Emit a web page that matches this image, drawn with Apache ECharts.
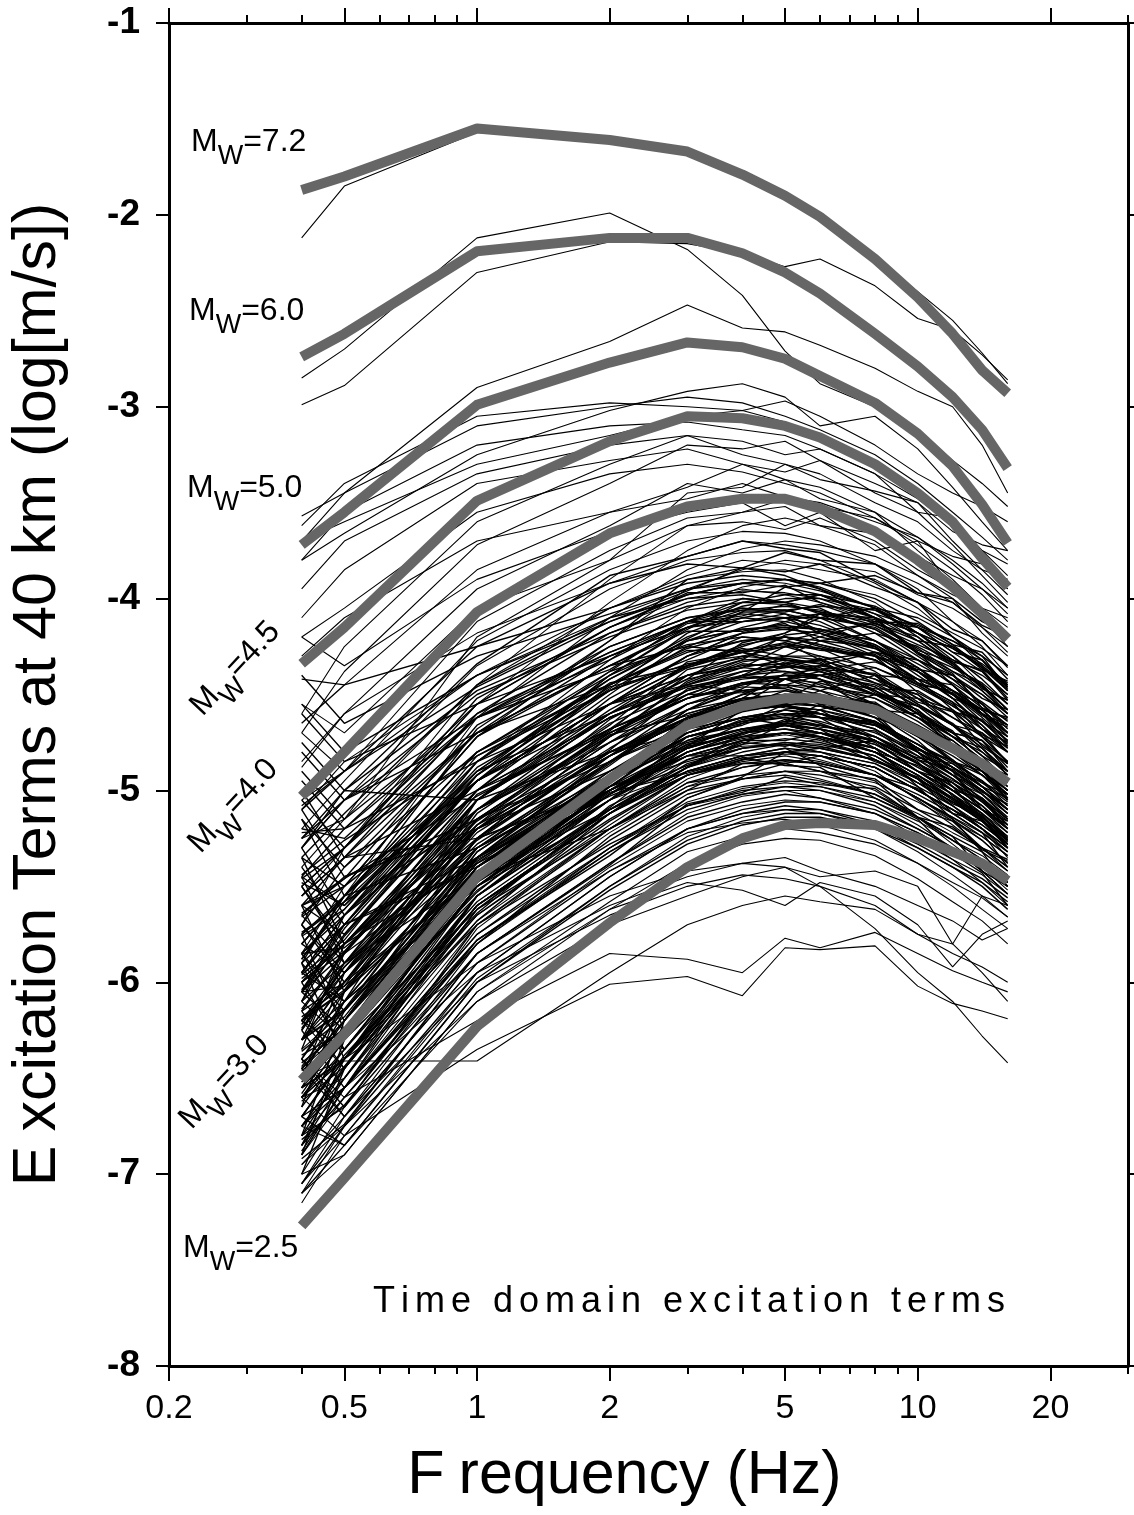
<!DOCTYPE html>
<html>
<head>
<meta charset="utf-8">
<script src="https://cdn.jsdelivr.net/npm/echarts@6/dist/echarts.min.js"></script>
<style>
  html, body { margin: 0; padding: 0; background: #ffffff; }
  #chart { width: 1134px; height: 1515px; }
</style>
</head>
<body>
<div id="chart"></div>
<script>
// Sample frequencies (Hz) shared by every curve
const freqs = [0.4, 0.5, 1, 2, 3, 4, 5, 6, 8, 10, 12, 14, 16];

// Frequency axis ticks
const majorFreqTicks = [0.2, 0.5, 1, 2, 5, 10, 20];
const minorFreqTicks = [0.3, 0.4, 0.6, 0.7, 0.8, 0.9, 3, 4, 6, 7, 8, 9, 30];

// Reference model curves, one per moment magnitude
const magnitudes = ['7.2', '6.0', '5.0', '4.5', '4.0', '3.0', '2.5'];
const modelMw72 = [-1.87, -1.80, -1.55, -1.61, -1.67, -1.79, -1.90, -2.01, -2.23, -2.43, -2.62, -2.81, -2.93];
const modelMw60 = [-2.74, -2.62, -2.19, -2.12, -2.12, -2.20, -2.30, -2.41, -2.62, -2.79, -2.95, -3.12, -3.32];
const modelMw50 = [-3.72, -3.55, -2.99, -2.77, -2.665, -2.69, -2.75, -2.84, -2.98, -3.14, -3.31, -3.51, -3.71];
const modelMw45 = [-4.34, -4.15, -3.49, -3.18, -3.05, -3.06, -3.10, -3.16, -3.30, -3.45, -3.60, -3.79, -3.94];
const modelMw40 = [-5.03, -4.80, -4.07, -3.66, -3.52, -3.48, -3.48, -3.53, -3.65, -3.80, -3.94, -4.08, -4.21];
const modelMw30 = [-6.51, -6.27, -5.45, -4.94, -4.66, -4.56, -4.52, -4.52, -4.58, -4.69, -4.78, -4.86, -4.96];
const modelMw25 = [-7.27, -7.02, -6.23, -5.69, -5.40, -5.25, -5.18, -5.17, -5.18, -5.25, -5.32, -5.38, -5.47];

// Event excitation terms: larger events
const upperTerms = [
  [-2.12, -1.85, -1.57, -1.62, -1.68, -1.80, -1.92, -2.03, -2.22, -2.40, -2.55, -2.72, -2.88],
  [-2.85, -2.70, -2.12, -1.99, -2.18, -2.42, -2.71, -2.88, -3.00, -3.12, -3.28, -3.40, -3.52],
  [-2.99, -2.89, -2.30, -2.14, -2.15, -2.20, -2.27, -2.23, -2.37, -2.54, -2.60, -2.73, -2.86],
  [-3.70, -3.45, -2.90, -2.66, -2.47, -2.59, -2.61, -2.68, -2.80, -2.92, -3.00, -3.20, -3.45],
  [-3.62, -3.40, -3.05, -2.98, -3.00, -3.02, -2.97, -3.05, -3.20, -3.35, -3.45, -3.52, -3.60],
  [-3.80, -3.66, -3.25, -3.02, -2.92, -2.88, -2.95, -3.10, -3.05, -3.22, -3.42, -3.60, -3.75],
  [-4.70, -4.38, -3.72, -3.40, -3.20, -3.22, -3.18, -3.28, -3.40, -3.50, -3.70, -3.85, -3.90],
  [-4.42, -4.45, -3.85, -3.55, -3.42, -3.30, -3.34, -3.28, -3.45, -3.55, -3.58, -3.75, -3.82],
  [-5.25, -5.15, -4.20, -3.80, -3.45, -3.42, -3.30, -3.38, -3.44, -3.50, -3.65, -3.72, -3.75],
  [-4.88, -4.60, -3.95, -3.62, -3.40, -3.45, -3.38, -3.48, -3.55, -3.75, -3.90, -4.05, -4.10],
  [-4.30, -4.10, -3.70, -3.55, -3.48, -3.40, -3.47, -3.50, -3.60, -3.68, -3.80, -3.92, -4.05],
  [-5.55, -5.30, -4.45, -3.90, -3.62, -3.55, -3.48, -3.52, -3.58, -3.70, -3.78, -3.82, -3.95],
  [-5.05, -4.90, -4.12, -3.75, -3.58, -3.55, -3.52, -3.62, -3.72, -3.88, -4.00, -4.18, -4.30],
  [-4.55, -4.70, -4.05, -3.80, -3.62, -3.60, -3.64, -3.58, -3.70, -3.85, -3.95, -4.08, -4.20],
  [-5.70, -5.30, -4.55, -4.02, -3.75, -3.62, -3.58, -3.62, -3.66, -3.78, -3.88, -3.95, -4.05],
  [-5.20, -4.95, -4.22, -3.85, -3.70, -3.65, -3.66, -3.70, -3.82, -3.95, -4.12, -4.25, -4.40],
  [-4.85, -4.60, -4.18, -3.92, -3.78, -3.70, -3.72, -3.75, -3.82, -3.92, -4.02, -4.15, -4.28],
  [-5.80, -5.55, -4.62, -4.10, -3.85, -3.74, -3.70, -3.72, -3.78, -3.88, -3.98, -4.05, -4.15],
  [-5.30, -5.05, -4.35, -3.95, -3.80, -3.76, -3.75, -3.80, -3.92, -4.05, -4.20, -4.35, -4.48],
  [-4.70, -4.90, -4.40, -4.05, -3.88, -3.80, -3.82, -3.85, -3.90, -4.02, -4.12, -4.22, -4.35],
  [-5.85, -5.50, -4.72, -4.22, -3.95, -3.85, -3.80, -3.82, -3.86, -3.98, -4.05, -4.15, -4.25],
  [-5.40, -5.15, -4.45, -4.05, -3.90, -3.86, -3.85, -3.90, -4.02, -4.18, -4.30, -4.45, -4.58],
  [-5.10, -4.85, -4.40, -4.10, -3.95, -3.90, -3.92, -3.96, -4.05, -4.15, -4.28, -4.38, -4.50],
  [-6.00, -5.70, -4.85, -4.32, -4.05, -3.94, -3.90, -3.92, -3.98, -4.08, -4.18, -4.26, -4.35],
  [-5.50, -5.30, -4.55, -4.15, -4.00, -3.95, -3.98, -4.02, -4.12, -4.28, -4.40, -4.55, -4.70],
  [-4.20, -4.35, -3.90, -3.65, -3.55, -3.50, -3.62, -3.55, -3.75, -3.70, -3.95, -4.10, -4.25],
  [-4.60, -4.25, -3.60, -3.30, -3.15, -3.18, -3.25, -3.22, -3.35, -3.55, -3.72, -3.88, -4.02],
  [-3.57, -3.45, -3.10, -3.00, -2.95, -2.98, -3.05, -3.12, -3.25, -3.40, -3.55, -3.68, -3.80],
  [-3.80, -3.55, -3.20, -3.10, -3.08, -3.12, -3.15, -3.22, -3.35, -3.48, -3.62, -3.75, -3.88],
  [-3.95, -3.70, -3.35, -3.20, -3.15, -3.25, -3.30, -3.35, -3.50, -3.60, -3.75, -3.85, -3.98],
  [-4.10, -3.85, -3.40, -3.28, -3.22, -3.30, -3.38, -3.42, -3.55, -3.68, -3.82, -3.95, -4.08],
  [-4.20, -4.05, -3.55, -3.35, -3.30, -3.34, -3.40, -3.45, -3.58, -3.72, -3.85, -3.98, -4.12],
  [-3.70, -3.60, -3.30, -3.15, -3.05, -3.02, -3.08, -3.15, -3.28, -3.45, -3.62, -3.80, -3.95]
];

// Event excitation terms: the bulk of moderate events
const denseTerms = [
  [-5.55, -5.35, -4.60, -4.18, -4.04, -4.00, -4.02, -4.05, -4.18, -4.32, -4.45, -4.60, -4.72],
  [-6.05, -5.70, -4.92, -4.40, -4.15, -4.04, -4.00, -4.00, -4.06, -4.18, -4.26, -4.35, -4.45],
  [-5.20, -5.25, -4.62, -4.32, -4.12, -4.05, -4.06, -4.10, -4.15, -4.28, -4.38, -4.45, -4.58],
  [-5.70, -5.40, -4.70, -4.25, -4.10, -4.05, -4.08, -4.12, -4.25, -4.40, -4.52, -4.68, -4.80],
  [-6.15, -5.85, -5.00, -4.50, -4.22, -4.12, -4.10, -4.08, -4.16, -4.28, -4.36, -4.44, -4.55],
  [-5.60, -5.50, -4.72, -4.30, -4.15, -4.12, -4.10, -4.18, -4.28, -4.42, -4.58, -4.72, -4.85],
  [-5.90, -5.55, -4.85, -4.42, -4.22, -4.16, -4.15, -4.20, -4.26, -4.38, -4.50, -4.60, -4.70],
  [-5.35, -5.50, -4.95, -4.55, -4.30, -4.18, -4.15, -4.16, -4.22, -4.32, -4.42, -4.50, -4.62],
  [-6.30, -6.00, -5.10, -4.60, -4.35, -4.24, -4.20, -4.22, -4.25, -4.38, -4.48, -4.55, -4.66],
  [-5.75, -5.55, -4.80, -4.38, -4.24, -4.20, -4.22, -4.26, -4.38, -4.52, -4.66, -4.80, -4.92],
  [-5.95, -6.10, -5.05, -4.52, -4.30, -4.22, -4.20, -4.25, -4.32, -4.45, -4.55, -4.68, -4.75],
  [-6.40, -6.05, -5.20, -4.68, -4.40, -4.30, -4.25, -4.26, -4.30, -4.42, -4.50, -4.58, -4.70],
  [-5.45, -5.60, -4.95, -4.55, -4.35, -4.28, -4.25, -4.30, -4.40, -4.55, -4.65, -4.78, -4.90],
  [-5.85, -5.62, -4.88, -4.48, -4.34, -4.30, -4.32, -4.36, -4.48, -4.62, -4.76, -4.90, -5.02],
  [-6.55, -6.15, -5.25, -4.72, -4.44, -4.33, -4.30, -4.30, -4.36, -4.46, -4.56, -4.64, -4.72],
  [-6.00, -5.80, -5.05, -4.60, -4.40, -4.32, -4.31, -4.34, -4.42, -4.50, -4.62, -4.72, -4.85],
  [-5.60, -5.75, -5.00, -4.62, -4.45, -4.38, -4.35, -4.38, -4.46, -4.60, -4.70, -4.82, -4.95],
  [-6.30, -6.00, -5.20, -4.75, -4.50, -4.40, -4.36, -4.35, -4.40, -4.52, -4.62, -4.70, -4.80],
  [-5.95, -5.70, -4.95, -4.55, -4.40, -4.36, -4.38, -4.42, -4.55, -4.70, -4.84, -4.98, -5.10],
  [-6.60, -6.30, -5.35, -4.82, -4.55, -4.45, -4.40, -4.40, -4.45, -4.56, -4.66, -4.74, -4.85],
  [-6.10, -5.90, -5.10, -4.65, -4.48, -4.42, -4.40, -4.45, -4.55, -4.68, -4.80, -4.92, -5.05],
  [-5.50, -5.80, -5.15, -4.70, -4.52, -4.44, -4.42, -4.46, -4.50, -4.62, -4.70, -4.82, -4.90],
  [-6.25, -5.95, -5.05, -4.62, -4.46, -4.41, -4.42, -4.48, -4.60, -4.74, -4.90, -5.02, -5.15],
  [-6.45, -6.20, -5.30, -4.85, -4.58, -4.48, -4.45, -4.46, -4.52, -4.62, -4.72, -4.80, -4.90],
  [-5.80, -5.95, -5.22, -4.78, -4.55, -4.48, -4.46, -4.50, -4.60, -4.72, -4.85, -4.95, -5.08],
  [-6.05, -5.85, -5.10, -4.68, -4.52, -4.46, -4.47, -4.52, -4.62, -4.78, -4.92, -5.05, -5.20],
  [-6.70, -6.40, -5.45, -4.92, -4.64, -4.54, -4.50, -4.50, -4.55, -4.66, -4.76, -4.84, -4.94],
  [-6.20, -6.00, -5.20, -4.75, -4.58, -4.52, -4.50, -4.55, -4.65, -4.80, -4.92, -5.05, -5.18],
  [-5.70, -5.95, -5.28, -4.85, -4.62, -4.53, -4.50, -4.52, -4.60, -4.70, -4.80, -4.88, -5.00],
  [-6.40, -6.10, -5.30, -4.82, -4.60, -4.52, -4.51, -4.54, -4.60, -4.72, -4.82, -4.92, -5.02],
  [-6.80, -6.45, -5.50, -4.98, -4.70, -4.59, -4.55, -4.56, -4.60, -4.70, -4.80, -4.88, -4.98],
  [-6.15, -6.00, -5.25, -4.80, -4.62, -4.57, -4.55, -4.60, -4.72, -4.86, -5.00, -5.12, -5.25],
  [-5.90, -6.15, -5.35, -4.90, -4.68, -4.58, -4.56, -4.58, -4.64, -4.76, -4.86, -4.95, -5.05],
  [-6.60, -6.30, -5.45, -4.98, -4.72, -4.64, -4.60, -4.62, -4.66, -4.78, -4.88, -4.96, -5.06],
  [-6.30, -6.10, -5.30, -4.85, -4.68, -4.62, -4.60, -4.65, -4.75, -4.90, -5.02, -5.15, -5.28],
  [-6.05, -6.25, -5.40, -4.95, -4.72, -4.64, -4.61, -4.62, -4.70, -4.80, -4.90, -5.00, -5.10],
  [-6.85, -6.50, -5.55, -5.02, -4.74, -4.63, -4.60, -4.60, -4.65, -4.76, -4.85, -4.92, -5.02],
  [-6.45, -6.20, -5.38, -4.92, -4.74, -4.68, -4.66, -4.70, -4.80, -4.94, -5.08, -5.20, -5.32],
  [-6.20, -6.35, -5.50, -5.02, -4.78, -4.69, -4.65, -4.66, -4.72, -4.82, -4.92, -5.00, -5.10],
  [-6.70, -6.40, -5.55, -5.05, -4.80, -4.70, -4.66, -4.68, -4.74, -4.86, -4.96, -5.05, -5.15],
  [-5.10, -5.45, -5.20, -4.90, -4.70, -4.62, -4.58, -4.60, -4.66, -4.78, -4.88, -4.98, -5.10],
  [-5.25, -5.00, -5.05, -4.80, -4.62, -4.50, -4.48, -4.52, -4.58, -4.70, -4.80, -4.90, -5.00],
  [-5.40, -5.70, -5.35, -5.00, -4.82, -4.74, -4.70, -4.72, -4.78, -4.90, -5.00, -5.10, -5.20],
  [-4.95, -5.20, -4.85, -4.55, -4.40, -4.35, -4.34, -4.38, -4.46, -4.60, -4.72, -4.84, -4.96],
  [-5.55, -5.35, -5.25, -4.98, -4.85, -4.78, -4.76, -4.78, -4.84, -4.94, -5.04, -5.14, -5.25],
  [-4.80, -5.05, -4.70, -4.45, -4.28, -4.22, -4.20, -4.24, -4.32, -4.45, -4.56, -4.66, -4.78],
  [-5.65, -5.90, -5.45, -5.10, -4.92, -4.86, -4.84, -4.86, -4.92, -5.02, -5.12, -5.22, -5.32],
  [-4.60, -4.85, -4.55, -4.30, -4.15, -4.10, -4.12, -4.16, -4.24, -4.36, -4.48, -4.58, -4.70],
  [-5.80, -5.55, -5.30, -4.95, -4.75, -4.68, -4.66, -4.70, -4.78, -4.90, -5.02, -5.14, -5.26],
  [-4.40, -4.65, -4.30, -4.08, -3.95, -3.92, -3.94, -3.98, -4.08, -4.22, -4.35, -4.48, -4.60],
  [-6.20, -5.95, -5.15, -4.70, -4.50, -4.40, -4.30, -4.22, -4.18, -4.25, -4.35, -4.45, -4.58],
  [-6.45, -6.20, -5.35, -4.85, -4.62, -4.50, -4.42, -4.35, -4.28, -4.32, -4.40, -4.50, -4.60],
  [-6.00, -5.80, -5.05, -4.62, -4.45, -4.36, -4.25, -4.20, -4.12, -4.15, -4.22, -4.32, -4.45],
  [-6.60, -6.35, -5.50, -5.00, -4.78, -4.65, -4.55, -4.48, -4.40, -4.42, -4.50, -4.60, -4.70],
  [-5.85, -5.65, -4.95, -4.55, -4.35, -4.25, -4.18, -4.10, -4.05, -4.10, -4.20, -4.32, -4.48],
  [-6.75, -6.50, -5.62, -5.10, -4.88, -4.76, -4.65, -4.58, -4.50, -4.52, -4.58, -4.68, -4.78],
  [-5.60, -5.35, -4.70, -4.35, -4.25, -4.28, -4.35, -4.42, -4.60, -4.80, -4.98, -5.15, -5.30],
  [-5.90, -5.70, -4.95, -4.55, -4.45, -4.48, -4.55, -4.62, -4.78, -4.98, -5.15, -5.32, -5.50]
];

// Event excitation terms: further moderate events
const moreTerms = [
  [-6.18, -6.02, -5.12, -4.66, -4.33, -4.28, -4.20, -4.24, -4.30, -4.36, -4.50, -4.58, -4.62],
  [-5.88, -5.55, -4.90, -4.44, -4.35, -4.26, -4.30, -4.32, -4.48, -4.58, -4.76, -4.85, -5.04],
  [-5.48, -5.60, -4.90, -4.60, -4.45, -4.34, -4.36, -4.31, -4.44, -4.50, -4.66, -4.70, -4.86],
  [-6.52, -6.20, -5.40, -4.95, -4.66, -4.55, -4.42, -4.40, -4.36, -4.45, -4.48, -4.60, -4.66],
  [-6.38, -6.25, -5.32, -4.86, -4.58, -4.44, -4.45, -4.40, -4.50, -4.56, -4.70, -4.74, -4.90],
  [-6.00, -5.84, -5.02, -4.68, -4.50, -4.49, -4.45, -4.54, -4.62, -4.80, -4.90, -5.10, -5.18],
  [-5.75, -5.58, -5.15, -4.80, -4.64, -4.52, -4.54, -4.50, -4.62, -4.70, -4.85, -4.90, -5.05],
  [-6.70, -6.38, -5.64, -5.08, -4.88, -4.70, -4.64, -4.55, -4.58, -4.60, -4.70, -4.74, -4.88],
  [-6.55, -6.40, -5.50, -5.05, -4.72, -4.66, -4.58, -4.62, -4.64, -4.79, -4.84, -4.96, -5.02],
  [-6.22, -5.92, -5.26, -4.80, -4.70, -4.62, -4.66, -4.68, -4.84, -4.94, -5.12, -5.22, -5.40],
  [-5.85, -5.82, -5.25, -5.00, -4.76, -4.72, -4.66, -4.70, -4.74, -4.90, -4.96, -5.10, -5.16],
  [-6.75, -6.44, -5.68, -5.12, -4.88, -4.74, -4.74, -4.70, -4.80, -4.87, -5.00, -5.04, -5.18],
  [-6.82, -6.64, -5.78, -5.34, -5.04, -4.93, -4.80, -4.78, -4.74, -4.83, -4.86, -4.98, -5.04],
  [-6.30, -6.15, -5.36, -5.00, -4.82, -4.82, -4.78, -4.87, -4.95, -5.14, -5.24, -5.42, -5.50],
  [-6.88, -6.55, -5.80, -5.24, -5.00, -4.86, -4.86, -4.82, -4.92, -4.99, -5.12, -5.16, -5.30],
  [-6.05, -6.02, -5.45, -5.20, -4.96, -4.92, -4.86, -4.90, -4.94, -5.10, -5.16, -5.30, -5.36],
  [-6.20, -6.05, -5.18, -4.72, -4.43, -4.32, -4.19, -4.17, -4.13, -4.22, -4.25, -4.37, -4.43],
  [-5.60, -5.46, -4.66, -4.30, -4.12, -4.12, -4.08, -4.17, -4.25, -4.44, -4.54, -4.72, -4.80],
  [-6.10, -5.76, -5.00, -4.45, -4.21, -4.07, -4.07, -4.03, -4.13, -4.20, -4.33, -4.37, -4.52],
  [-5.25, -5.05, -4.62, -4.28, -4.12, -4.00, -4.02, -3.98, -4.10, -4.18, -4.32, -4.38, -4.53],
  [-5.76, -5.62, -4.82, -4.45, -4.27, -4.27, -4.23, -4.32, -4.40, -4.59, -4.69, -4.87, -4.95],
  [-6.30, -6.14, -5.25, -4.79, -4.47, -4.41, -4.33, -4.37, -4.39, -4.54, -4.59, -4.71, -4.77],
  [-6.58, -6.26, -5.53, -4.98, -4.77, -4.58, -4.53, -4.43, -4.47, -4.48, -4.59, -4.63, -4.77],
  [-6.14, -5.84, -5.16, -4.71, -4.61, -4.53, -4.57, -4.58, -4.74, -4.85, -5.03, -5.13, -5.30],
  [-6.62, -6.44, -5.55, -5.09, -4.77, -4.71, -4.63, -4.67, -4.69, -4.84, -4.89, -5.01, -5.07],
  [-5.98, -5.80, -5.38, -5.03, -4.87, -4.75, -4.77, -4.73, -4.85, -4.93, -5.07, -5.13, -5.27],
  [-6.44, -6.14, -5.46, -5.01, -4.91, -4.83, -4.87, -4.88, -5.04, -5.15, -5.33, -5.43, -5.60],
  [-6.92, -6.74, -5.85, -5.39, -5.07, -5.01, -4.93, -4.97, -4.99, -5.14, -5.19, -5.31, -5.37],
  [-6.36, -6.18, -5.32, -4.87, -4.58, -4.47, -4.34, -4.32, -4.28, -4.37, -4.40, -4.52, -4.58],
  [-6.46, -6.30, -5.40, -4.94, -4.62, -4.56, -4.48, -4.52, -4.54, -4.69, -4.74, -4.86, -4.92],
  [-5.30, -5.65, -5.10, -4.75, -4.55, -4.48, -4.45, -4.48, -4.55, -4.68, -4.78, -4.90, -5.02],
  [-6.90, -6.30, -5.40, -4.90, -4.66, -4.58, -4.56, -4.60, -4.68, -4.80, -4.92, -5.02, -5.14],
  [-5.00, -5.35, -5.00, -4.70, -4.52, -4.44, -4.40, -4.42, -4.50, -4.62, -4.74, -4.86, -4.98],
  [-6.65, -6.05, -5.25, -4.80, -4.60, -4.52, -4.50, -4.52, -4.58, -4.70, -4.80, -4.90, -5.00],
  [-5.75, -6.25, -5.55, -5.10, -4.88, -4.80, -4.76, -4.78, -4.84, -4.96, -5.06, -5.16, -5.26],
  [-6.35, -5.80, -5.10, -4.72, -4.52, -4.45, -4.42, -4.44, -4.52, -4.64, -4.76, -4.88, -5.00],
  [-5.45, -5.90, -5.30, -4.92, -4.72, -4.64, -4.62, -4.66, -4.74, -4.86, -4.98, -5.08, -5.20],
  [-6.80, -6.20, -5.45, -5.00, -4.78, -4.70, -4.68, -4.70, -4.78, -4.90, -5.00, -5.10, -5.22],
  [-5.15, -5.55, -4.95, -4.60, -4.42, -4.36, -4.32, -4.34, -4.42, -4.55, -4.66, -4.78, -4.90],
  [-6.50, -5.95, -5.35, -4.95, -4.76, -4.68, -4.64, -4.66, -4.72, -4.84, -4.94, -5.04, -5.15],
  [-5.90, -6.40, -5.60, -5.15, -4.92, -4.84, -4.80, -4.82, -4.88, -5.00, -5.10, -5.20, -5.30],
  [-6.10, -5.65, -5.00, -4.62, -4.46, -4.40, -4.38, -4.40, -4.48, -4.60, -4.72, -4.84, -4.96],
  [-5.60, -6.05, -5.42, -5.02, -4.82, -4.74, -4.70, -4.72, -4.80, -4.92, -5.04, -5.14, -5.26],
  [-7.00, -6.45, -5.60, -5.12, -4.90, -4.82, -4.78, -4.80, -4.86, -4.98, -5.08, -5.18, -5.28],
  [-5.35, -5.80, -5.18, -4.82, -4.64, -4.56, -4.54, -4.56, -4.64, -4.76, -4.88, -4.98, -5.10],
  [-6.25, -5.90, -5.20, -4.82, -4.64, -4.58, -4.56, -4.60, -4.68, -4.82, -4.94, -5.06, -5.18],
  [-6.80, -6.65, -5.85, -5.38, -5.14, -5.06, -5.02, -5.04, -5.10, -5.20, -5.30, -5.38, -5.48],
  [-6.45, -6.70, -5.90, -5.42, -5.20, -5.12, -5.08, -5.10, -5.18, -5.30, -5.40, -5.50, -5.62],
  [-7.05, -6.75, -5.95, -5.45, -5.20, -5.10, -5.06, -5.06, -5.12, -5.22, -5.32, -5.40, -5.50],
  [-6.60, -6.40, -5.70, -5.28, -5.08, -5.00, -4.98, -5.00, -5.08, -5.20, -5.30, -5.42, -5.54],
  [-6.90, -6.55, -5.78, -5.32, -5.10, -5.02, -4.98, -4.98, -5.04, -5.14, -5.24, -5.32, -5.42],
  [-6.70, -6.85, -6.00, -5.52, -5.28, -5.18, -5.14, -5.14, -5.20, -5.30, -5.40, -5.48, -5.58],
  [-6.55, -6.30, -5.62, -5.20, -5.00, -4.94, -4.92, -4.95, -5.02, -5.14, -5.26, -5.36, -5.48],
  [-7.10, -6.85, -6.00, -5.50, -5.26, -5.16, -5.12, -5.12, -5.18, -5.28, -5.38, -5.46, -5.56],
  [-5.45, -5.20, -4.55, -4.15, -3.98, -3.92, -3.90, -3.94, -4.05, -4.20, -4.34, -4.46, -4.60],
  [-5.95, -5.65, -4.85, -4.38, -4.12, -4.02, -3.98, -3.98, -4.04, -4.15, -4.25, -4.34, -4.44],
  [-5.05, -5.30, -4.70, -4.35, -4.15, -4.06, -4.04, -4.06, -4.14, -4.26, -4.38, -4.48, -4.60],
  [-6.20, -5.90, -5.05, -4.55, -4.30, -4.18, -4.12, -4.08, -4.10, -4.18, -4.26, -4.36, -4.46],
  [-5.50, -5.30, -4.62, -4.25, -4.10, -4.06, -4.06, -4.10, -4.22, -4.36, -4.50, -4.64, -4.76],
  [-5.80, -5.55, -4.80, -4.40, -4.22, -4.16, -4.14, -4.16, -4.22, -4.34, -4.44, -4.54, -4.64],
  [-4.90, -5.15, -4.60, -4.28, -4.12, -4.08, -4.10, -4.14, -4.24, -4.38, -4.50, -4.62, -4.74],
  [-6.05, -5.75, -4.95, -4.48, -4.25, -4.15, -4.10, -4.10, -4.14, -4.24, -4.32, -4.40, -4.50]
];

// Event excitation terms: additional moderate events
const extraTerms = [
  [-5.30, -5.00, -4.34, -3.88, -3.78, -3.70, -3.74, -3.76, -3.91, -4.02, -4.20, -4.30, -4.47],
  [-5.74, -5.58, -4.68, -4.22, -3.90, -3.84, -3.76, -3.80, -3.82, -3.97, -4.02, -4.14, -4.20],
  [-5.08, -4.90, -4.46, -4.12, -3.96, -3.84, -3.86, -3.82, -3.94, -4.02, -4.16, -4.22, -4.36],
  [-5.96, -5.78, -4.92, -4.47, -4.18, -4.07, -3.94, -3.92, -3.88, -3.97, -4.00, -4.12, -4.18],
  [-5.46, -5.30, -4.52, -4.15, -3.97, -3.97, -3.93, -4.02, -4.10, -4.29, -4.39, -4.57, -4.66],
  [-6.04, -5.72, -4.95, -4.40, -4.16, -4.02, -4.02, -3.98, -4.08, -4.15, -4.28, -4.32, -4.46],
  [-5.22, -5.20, -4.62, -4.37, -4.13, -4.09, -4.03, -4.07, -4.11, -4.27, -4.33, -4.47, -4.53],
  [-6.24, -5.92, -5.18, -4.63, -4.42, -4.23, -4.18, -4.08, -4.12, -4.13, -4.24, -4.28, -4.42],
  [-5.66, -5.50, -4.72, -4.35, -4.17, -4.17, -4.13, -4.22, -4.30, -4.49, -4.59, -4.77, -4.86],
  [-5.44, -5.26, -4.82, -4.48, -4.32, -4.20, -4.22, -4.18, -4.30, -4.38, -4.52, -4.58, -4.72],
  [-6.20, -6.04, -5.15, -4.69, -4.37, -4.31, -4.23, -4.27, -4.29, -4.44, -4.49, -4.61, -4.67],
  [-5.88, -5.58, -4.92, -4.46, -4.36, -4.28, -4.32, -4.33, -4.49, -4.60, -4.78, -4.88, -5.05],
  [-6.42, -6.24, -5.37, -4.92, -4.63, -4.52, -4.39, -4.37, -4.33, -4.42, -4.45, -4.57, -4.63],
  [-5.64, -5.46, -5.03, -4.68, -4.52, -4.40, -4.42, -4.38, -4.50, -4.58, -4.72, -4.78, -4.92],
  [-5.10, -4.90, -4.25, -3.92, -3.82, -3.84, -3.88, -3.95, -4.10, -4.28, -4.45, -4.60, -4.75],
  [-5.35, -5.12, -4.45, -4.10, -4.00, -3.98, -4.02, -4.08, -4.22, -4.38, -4.52, -4.66, -4.80],
  [-4.75, -5.00, -4.48, -4.18, -4.02, -3.96, -3.97, -4.00, -4.10, -4.22, -4.34, -4.46, -4.58],
  [-4.65, -4.45, -4.25, -4.05, -3.92, -3.88, -3.90, -3.95, -4.05, -4.18, -4.30, -4.42, -4.55],
  [-5.95, -5.65, -4.90, -4.42, -4.20, -4.10, -4.06, -4.04, -4.06, -4.14, -4.22, -4.30, -4.40],
  [-5.15, -5.40, -4.80, -4.45, -4.26, -4.18, -4.16, -4.18, -4.26, -4.38, -4.48, -4.58, -4.70],
  [-6.30, -5.85, -5.05, -4.58, -4.36, -4.27, -4.24, -4.26, -4.32, -4.44, -4.54, -4.64, -4.74],
  [-4.55, -4.80, -4.40, -4.12, -3.98, -3.92, -3.90, -3.92, -4.00, -4.12, -4.24, -4.36, -4.48],
  [-5.85, -6.20, -5.25, -4.72, -4.48, -4.38, -4.35, -4.37, -4.44, -4.56, -4.66, -4.76, -4.86],
  [-5.30, -5.05, -4.50, -4.20, -4.06, -4.02, -4.03, -4.07, -4.16, -4.30, -4.42, -4.55, -4.68],
  [-6.25, -6.55, -5.55, -5.05, -4.80, -4.70, -4.66, -4.68, -4.74, -4.86, -4.96, -5.06, -5.16],
  [-5.95, -5.70, -5.40, -5.00, -4.78, -4.70, -4.68, -4.72, -4.80, -4.92, -5.04, -5.16, -5.28],
  [-6.50, -6.10, -5.50, -5.02, -4.80, -4.72, -4.70, -4.72, -4.78, -4.90, -5.00, -5.10, -5.20],
  [-5.70, -6.00, -5.45, -5.05, -4.84, -4.76, -4.73, -4.75, -4.82, -4.94, -5.05, -5.16, -5.28],
  [-6.40, -6.65, -5.70, -5.20, -4.96, -4.88, -4.84, -4.86, -4.92, -5.04, -5.14, -5.24, -5.34],
  [-6.05, -5.80, -5.20, -4.82, -4.62, -4.55, -4.53, -4.56, -4.64, -4.76, -4.88, -5.00, -5.12],
  [-6.65, -6.35, -5.58, -5.10, -4.86, -4.78, -4.75, -4.77, -4.84, -4.96, -5.06, -5.16, -5.26],
  [-5.50, -5.85, -5.35, -5.00, -4.80, -4.72, -4.70, -4.73, -4.80, -4.92, -5.02, -5.12, -5.24],
  [-6.15, -6.45, -5.60, -5.12, -4.90, -4.82, -4.80, -4.82, -4.88, -5.00, -5.10, -5.20, -5.30],
  [-6.85, -6.40, -5.65, -5.16, -4.92, -4.84, -4.80, -4.82, -4.88, -5.00, -5.10, -5.18, -5.28],
  [-5.85, -6.10, -5.50, -5.12, -4.92, -4.85, -4.82, -4.85, -4.92, -5.04, -5.15, -5.26, -5.38],
  [-6.55, -6.25, -5.40, -4.92, -4.70, -4.62, -4.58, -4.60, -4.66, -4.78, -4.88, -4.98, -5.08],
  [-6.00, -6.35, -5.48, -5.00, -4.76, -4.68, -4.65, -4.68, -4.76, -4.88, -4.98, -5.08, -5.20],
  [-6.75, -6.55, -5.75, -5.26, -5.02, -4.94, -4.90, -4.92, -4.98, -5.10, -5.20, -5.30, -5.40],
  [-6.30, -6.05, -5.35, -4.92, -4.72, -4.65, -4.62, -4.64, -4.72, -4.84, -4.96, -5.08, -5.20],
  [-5.65, -5.45, -5.15, -4.85, -4.66, -4.58, -4.56, -4.58, -4.66, -4.78, -4.90, -5.00, -5.12]
];

// Event excitation terms: smaller events
const lowerTerms = [
  [-6.55, -6.30, -5.45, -5.00, -4.80, -4.73, -4.70, -4.72, -4.80, -4.92, -5.05, -5.15, -5.28],
  [-6.90, -6.55, -5.62, -5.12, -4.84, -4.74, -4.70, -4.70, -4.76, -4.86, -4.95, -5.02, -5.12],
  [-6.10, -6.30, -5.52, -5.05, -4.82, -4.74, -4.71, -4.74, -4.82, -4.96, -5.08, -5.20, -5.35],
  [-6.75, -6.45, -5.60, -5.12, -4.88, -4.78, -4.75, -4.76, -4.82, -4.94, -5.04, -5.12, -5.22],
  [-6.35, -6.15, -5.40, -4.98, -4.82, -4.77, -4.76, -4.80, -4.90, -5.05, -5.18, -5.30, -5.42],
  [-7.00, -6.65, -5.72, -5.20, -4.94, -4.84, -4.80, -4.80, -4.86, -4.96, -5.06, -5.14, -5.24],
  [-6.50, -6.40, -5.60, -5.12, -4.90, -4.82, -4.80, -4.84, -4.92, -5.04, -5.16, -5.26, -5.38],
  [-6.20, -6.45, -5.65, -5.18, -4.92, -4.83, -4.81, -4.82, -4.88, -5.00, -5.10, -5.20, -5.30],
  [-6.80, -6.55, -5.70, -5.22, -4.98, -4.88, -4.85, -4.86, -4.92, -5.04, -5.14, -5.22, -5.32],
  [-6.45, -6.25, -5.48, -5.05, -4.90, -4.86, -4.86, -4.90, -5.00, -5.14, -5.28, -5.40, -5.52],
  [-7.05, -6.70, -5.80, -5.30, -5.04, -4.94, -4.90, -4.90, -4.96, -5.06, -5.16, -5.24, -5.34],
  [-6.60, -6.50, -5.68, -5.20, -4.98, -4.92, -4.90, -4.94, -5.02, -5.14, -5.26, -5.36, -5.48],
  [-6.90, -6.60, -5.78, -5.30, -5.06, -4.98, -4.95, -4.96, -5.02, -5.12, -5.22, -5.30, -5.40],
  [-6.40, -6.60, -5.80, -5.32, -5.08, -4.99, -4.96, -4.98, -5.06, -5.18, -5.30, -5.42, -5.54],
  [-7.10, -6.75, -5.85, -5.38, -5.12, -5.03, -5.00, -5.00, -5.06, -5.16, -5.26, -5.34, -5.44],
  [-6.70, -6.55, -5.75, -5.30, -5.08, -5.02, -5.00, -5.04, -5.12, -5.24, -5.36, -5.48, -5.60],
  [-6.95, -6.70, -5.90, -5.40, -5.16, -5.08, -5.05, -5.06, -5.12, -5.22, -5.32, -5.40, -5.50],
  [-6.60, -6.80, -5.95, -5.45, -5.20, -5.12, -5.10, -5.12, -5.20, -5.32, -5.44, -5.55, -5.66],
  [-7.15, -6.80, -5.98, -5.50, -5.24, -5.14, -5.10, -5.10, -5.16, -5.26, -5.36, -5.44, -5.54],
  [-6.85, -6.60, -5.85, -5.42, -5.22, -5.17, -5.15, -5.18, -5.26, -5.38, -5.50, -5.62, -5.72],
  [-7.00, -6.90, -6.05, -5.58, -5.32, -5.24, -5.20, -5.22, -5.28, -5.38, -5.48, -5.56, -5.66],
  [-6.75, -6.85, -6.10, -5.62, -5.38, -5.28, -5.25, -5.26, -5.34, -5.46, -5.58, -5.68, -5.80],
  [-7.05, -6.80, -6.35, -6.01, -5.97, -6.07, -5.82, -5.83, -5.81, -6.02, -6.11, -6.15, -6.19],
  [-6.85, -6.60, -6.20, -5.85, -5.88, -5.95, -5.77, -5.82, -5.74, -5.85, -5.94, -6.00, -6.05],
  [-6.60, -6.40, -5.90, -5.55, -5.42, -5.38, -5.40, -5.50, -5.72, -5.95, -6.10, -6.28, -6.42],
  [-6.55, -6.41, -6.41, -5.95, -5.70, -5.60, -5.55, -5.58, -5.62, -5.75, -5.85, -5.92, -6.00],
  [-6.95, -6.75, -6.10, -5.70, -5.55, -5.45, -5.40, -5.45, -5.42, -5.50, -5.80, -5.55, -5.60],
  [-6.70, -6.55, -5.95, -5.60, -5.45, -5.38, -5.35, -5.42, -5.50, -5.60, -5.68, -5.78, -5.72],
  [-7.10, -6.90, -6.05, -5.62, -5.48, -5.52, -5.60, -5.48, -5.55, -5.70, -5.92, -5.75, -5.68],
  [-6.40, -6.70, -6.00, -5.65, -5.50, -5.44, -5.46, -5.50, -5.60, -5.75, -5.80, -5.95, -6.10]
];

const modelCurves = [modelMw72, modelMw60, modelMw50, modelMw45, modelMw40, modelMw30, modelMw25];

// Placement of the magnitude tags relative to each model curve's first point (px, degrees)
const tagPlacement = [
  { dx: -53, dy: -42, rot: 0 },
  { dx: -55, dy: -40, rot: 0 },
  { dx: -57, dy: -51, rot: 0 },
  { dx: -62, dy: 9, rot: 47 },
  { dx: -64, dy: 14, rot: 47 },
  { dx: -73, dy: 6, rot: 47 },
  { dx: -61, dy: 28, rot: 0 }
];

const sansFont = "'Liberation Sans', Arial, sans-serif";
const toPairs = vals => freqs.map((f, i) => [f, vals[i]]);

// Curve groups and the stroke used for each
const thinGroups = [
  { rows: upperTerms, width: 1.1 },
  { rows: denseTerms, width: 1.4 },
  { rows: moreTerms, width: 1.4 },
  { rows: extraTerms, width: 1.4 },
  { rows: lowerTerms, width: 1.1 }
];

const series = [];
thinGroups.forEach(group => {
  group.rows.forEach(vals => {
    series.push({
      type: 'line',
      data: toPairs(vals),
      showSymbol: false,
      symbol: 'none',
      silent: true,
      z: 2,
      lineStyle: { color: '#000000', width: group.width }
    });
  });
});
modelCurves.forEach((vals, i) => {
  series.push({
    type: 'line',
    name: 'Mw ' + magnitudes[i],
    data: toPairs(vals),
    showSymbol: false,
    symbol: 'none',
    silent: true,
    z: 5,
    lineStyle: { color: '#666666', width: 10, cap: 'butt', join: 'round' }
  });
});

const freqAxisBase = {
  type: 'log',
  logBase: 10,
  min: 0.2,
  max: 30,
  gridIndex: 0,
  splitLine: { show: false },
  minorTick: { show: false },
  minorSplitLine: { show: false }
};

const option = {
  animation: false,
  backgroundColor: '#ffffff',
  grid: { left: 167, right: 6, top: 23, bottom: 149, containLabel: false },
  xAxis: [
    Object.assign({}, freqAxisBase, {
      position: 'bottom',
      axisLine: { show: true, onZero: false, lineStyle: { color: '#000', width: 3 } },
      axisTick: { show: true, inside: false, length: 15, customValues: majorFreqTicks, lineStyle: { color: '#000', width: 2 } },
      axisLabel: {
        show: true, customValues: majorFreqTicks, margin: 26, color: '#000',
        fontSize: 34, fontFamily: sansFont, formatter: v => String(v)
      },
      name: '{f|F}requency (Hz)',
      nameLocation: 'middle',
      nameGap: 80,
      nameTextStyle: {
        color: '#000', fontSize: 61, fontFamily: sansFont, padding: [0, 48, 0, 0],
        rich: { f: { fontSize: 61, fontFamily: sansFont, color: '#000', padding: [0, 14, 0, 0] } }
      }
    }),
    Object.assign({}, freqAxisBase, {
      position: 'bottom',
      axisLine: { show: false },
      axisTick: { show: true, inside: false, length: 8, customValues: minorFreqTicks, lineStyle: { color: '#000', width: 2 } },
      axisLabel: { show: false }
    }),
    Object.assign({}, freqAxisBase, {
      position: 'top',
      axisLine: { show: true, onZero: false, lineStyle: { color: '#000', width: 3 } },
      axisTick: { show: true, inside: false, length: 15, customValues: majorFreqTicks, lineStyle: { color: '#000', width: 2 } },
      axisLabel: { show: false }
    }),
    Object.assign({}, freqAxisBase, {
      position: 'top',
      axisLine: { show: false },
      axisTick: { show: true, inside: false, length: 8, customValues: minorFreqTicks, lineStyle: { color: '#000', width: 2 } },
      axisLabel: { show: false }
    })
  ],
  yAxis: [
    {
      type: 'value', min: -8, max: -1, interval: 1, position: 'left',
      axisLine: { show: true, onZero: false, lineStyle: { color: '#000', width: 3 } },
      axisTick: { show: true, inside: false, length: 13, lineStyle: { color: '#000', width: 2 } },
      axisLabel: { show: true, margin: 29, color: '#000', fontSize: 37, fontWeight: 'bold', fontFamily: sansFont },
      splitLine: { show: false },
      name: '{e|E}xcitation Terms at 40 km (log[m/s])',
      nameLocation: 'middle',
      nameRotate: 90,
      nameGap: 100,
      nameTextStyle: {
        color: '#000', fontSize: 61, fontFamily: sansFont,
        rich: { e: { fontSize: 61, fontFamily: sansFont, color: '#000', padding: [0, 14, 0, 0] } }
      }
    },
    {
      type: 'value', min: -8, max: -1, interval: 1, position: 'right',
      axisLine: { show: true, onZero: false, lineStyle: { color: '#000', width: 3 } },
      axisTick: { show: true, inside: false, length: 13, lineStyle: { color: '#000', width: 2 } },
      axisLabel: { show: false },
      splitLine: { show: false }
    }
  ],
  series: series
};

const chart = echarts.init(document.getElementById('chart'), null, { renderer: 'canvas' });
chart.setOption(option);

// Magnitude tags, anchored to the first point of each model curve
const tagRich = {
  m: { fontSize: 32, fontFamily: sansFont, color: '#000', lineHeight: 32, verticalAlign: 'top' },
  w: { fontSize: 27, fontFamily: sansFont, color: '#000', lineHeight: 44, verticalAlign: 'bottom' }
};
const tags = modelCurves.map((vals, i) => {
  const p = chart.convertToPixel({ xAxisIndex: 0, yAxisIndex: 0 }, [freqs[0], vals[0]]);
  const t = tagPlacement[i];
  return {
    type: 'text',
    x: p[0] + t.dx,
    y: p[1] + t.dy,
    rotation: t.rot * Math.PI / 180,
    z: 20,
    silent: true,
    style: {
      text: '{m|M}{w|W}{m|=' + magnitudes[i] + '}',
      rich: tagRich,
      align: 'center',
      verticalAlign: 'middle'
    }
  };
});

// Panel note, drawn with widened letter spacing
const noteText = 'Time domain excitation terms';
const noteSpaced = noteText.split('').map(ch => '{s|' + ch + '}').join('');
tags.push({
  type: 'text',
  x: 689,
  y: 1302,
  z: 20,
  silent: true,
  style: {
    text: noteSpaced,
    rich: { s: { fontSize: 36, fontFamily: sansFont, color: '#000', padding: [0, 3, 0, 3] } },
    align: 'center',
    verticalAlign: 'middle'
  }
});

chart.setOption({ graphic: tags });
</script>
</body>
</html>
